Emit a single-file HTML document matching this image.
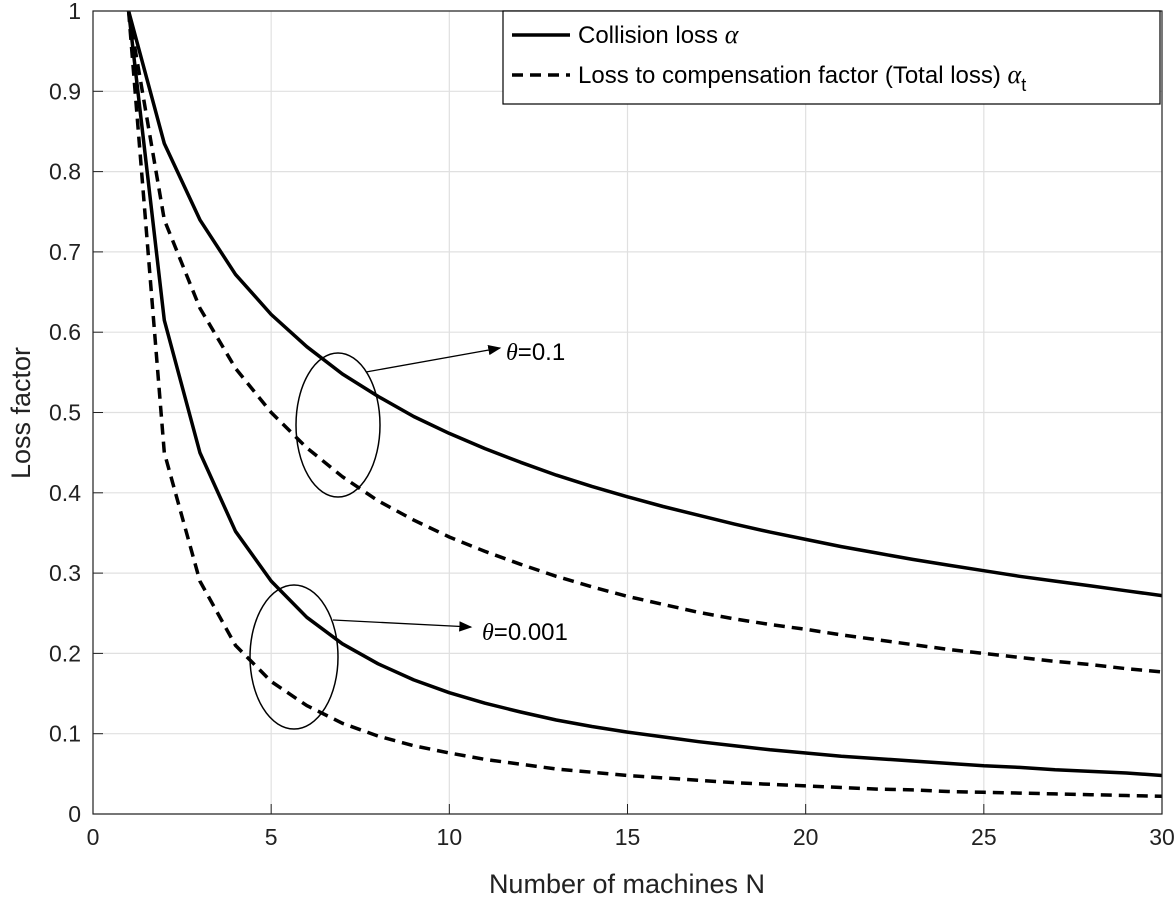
<!DOCTYPE html>
<html><head><meta charset="utf-8"><style>
body{margin:0;background:#fff;}
svg{display:block;font-family:"Liberation Sans",sans-serif;}
</style></head><body>
<svg id="chart" width="1176" height="899" viewBox="0 0 1176 899">
<defs><marker id="ah" markerWidth="10" markerHeight="10" refX="9" refY="5" orient="auto"><path d="M0,1 L10,5 L0,9 Z" fill="#000"/></marker></defs>
<g id="grid"></g><g id="series"></g><g id="axes"></g>
<g>
<ellipse cx="338" cy="425" rx="42" ry="72" fill="none" stroke="#000" stroke-width="1.5"/>
<line x1="366" y1="372" x2="500" y2="348" stroke="#000" stroke-width="1.3" marker-end="url(#ah)"/>
<text x="506" y="360" font-size="24"><tspan font-style="italic" font-family="Liberation Serif">θ</tspan>=0.1</text>
<ellipse cx="294" cy="657" rx="44" ry="72" fill="none" stroke="#000" stroke-width="1.5"/>
<line x1="333" y1="620" x2="471" y2="627" stroke="#000" stroke-width="1.3" marker-end="url(#ah)"/>
<text x="482" y="640" font-size="24"><tspan font-style="italic" font-family="Liberation Serif">θ</tspan>=0.001</text>
</g>
<g>
<rect x="503" y="11" width="657" height="93" fill="#fff" stroke="#000" stroke-width="1.2"/>
<line x1="512" y1="35" x2="570" y2="35" stroke="#000" stroke-width="3.5"/>
<text x="578" y="43" font-size="24">Collision loss <tspan font-style="italic" font-family="Liberation Serif" font-size="26">α</tspan></text>
<line x1="512" y1="75" x2="570" y2="75" stroke="#000" stroke-width="3.5" stroke-dasharray="11,7"/>
<text x="578" y="83" font-size="24">Loss to compensation factor (Total loss) <tspan font-style="italic" font-family="Liberation Serif" font-size="26">α</tspan><tspan font-size="18" dy="8">t</tspan></text>
</g>
<text x="627" y="893" font-size="27" text-anchor="middle" fill="#222">Number of machines N</text>
<text transform="translate(30,413) rotate(-90)" font-size="27" text-anchor="middle" fill="#222">Loss factor</text>
</svg>
<script>
const N = [1,2,3,4,5,6,7,8,9,10,11,12,13,14,15,16,17,18,19,20,21,22,23,24,25,26,27,28,29,30];
const alpha01 = [1,0.835,0.74,0.672,0.622,0.582,0.548,0.52,0.495,0.474,0.455,0.438,0.422,0.408,0.395,0.383,0.372,0.361,0.351,0.342,0.333,0.325,0.317,0.31,0.303,0.296,0.29,0.284,0.278,0.272];
const alphaT01 = [1,0.74,0.63,0.555,0.5,0.456,0.42,0.39,0.366,0.345,0.327,0.311,0.296,0.283,0.271,0.261,0.251,0.243,0.236,0.23,0.223,0.217,0.211,0.205,0.2,0.195,0.19,0.186,0.181,0.177];
const alpha0001 = [1,0.615,0.45,0.352,0.29,0.245,0.212,0.187,0.167,0.151,0.138,0.127,0.117,0.109,0.102,0.096,0.09,0.085,0.08,0.076,0.072,0.069,0.066,0.063,0.06,0.058,0.055,0.053,0.051,0.048];
const alphaT0001 = [1,0.45,0.29,0.21,0.165,0.135,0.113,0.097,0.085,0.076,0.068,0.062,0.056,0.052,0.048,0.045,0.042,0.039,0.037,0.035,0.033,0.031,0.03,0.028,0.027,0.026,0.025,0.024,0.023,0.022];
const xTicks = [0,5,10,15,20,25,30];
const yTicks = [0,0.1,0.2,0.3,0.4,0.5,0.6,0.7,0.8,0.9,1];
const yTickLabels = ["0","0.1","0.2","0.3","0.4","0.5","0.6","0.7","0.8","0.9","1"];

const L=93,R=1162,T=11,B=814;
const xs=v=>L+(v-0)/(30-0)*(R-L);
const ys=v=>B-(v-0)/(1-0)*(B-T);
const NS="http://www.w3.org/2000/svg";
function mk(tag,attrs,parent){const e=document.createElementNS(NS,tag);for(const k in attrs)e.setAttribute(k,attrs[k]);parent.appendChild(e);return e;}
const grid=document.getElementById('grid'),ser=document.getElementById('series'),ax=document.getElementById('axes');
xTicks.forEach(t=>{
  const g=mk('line',{x1:xs(t),x2:xs(t),y1:T,y2:B,stroke:'#e0e0e0','stroke-width':1.2},grid);
  
  
  const tk=mk('line',{x1:xs(t),x2:xs(t),y1:B,y2:B-10,stroke:'#222','stroke-width':1},ax);
  
  
  const tx=mk('text',{x:xs(t),y:B+31,'font-size':23,'text-anchor':'middle',fill:'#222'},ax);
  tx.textContent=String(t);
  
  
});
yTicks.forEach((t,i)=>{
  const g=mk('line',{x1:L,x2:R,y1:ys(t),y2:ys(t),stroke:'#e0e0e0','stroke-width':1.2},grid);
  
  
  const tk=mk('line',{x1:L,x2:L+10,y1:ys(t),y2:ys(t),stroke:'#222','stroke-width':1},ax);
  
  
  const tx=mk('text',{x:L-12,y:ys(t)+8,'font-size':23,'text-anchor':'end',fill:'#222'},ax);
  tx.textContent=yTickLabels[i];
  
  
});
const frame=mk('rect',{x:L,y:T,width:R-L,height:B-T,fill:'none',stroke:'#222','stroke-width':1.2},ax);


function line(vals,dashed,name){
  const d=vals.map((v,i)=>(i?'L':'M')+xs(N[i]).toFixed(1)+','+ys(v).toFixed(1)).join(' ');
  const p=mk('path',{d:d,fill:'none',stroke:'#000','stroke-width':3.5,'stroke-linejoin':'round'},ser);
  if(dashed)p.setAttribute('stroke-dasharray','11,7');
  
  
}
line(alpha01,false,'line-collision-theta-0.1');
line(alphaT01,true,'line-total-theta-0.1');
line(alpha0001,false,'line-collision-theta-0.001');
line(alphaT0001,true,'line-total-theta-0.001');
</script>
</body></html>
